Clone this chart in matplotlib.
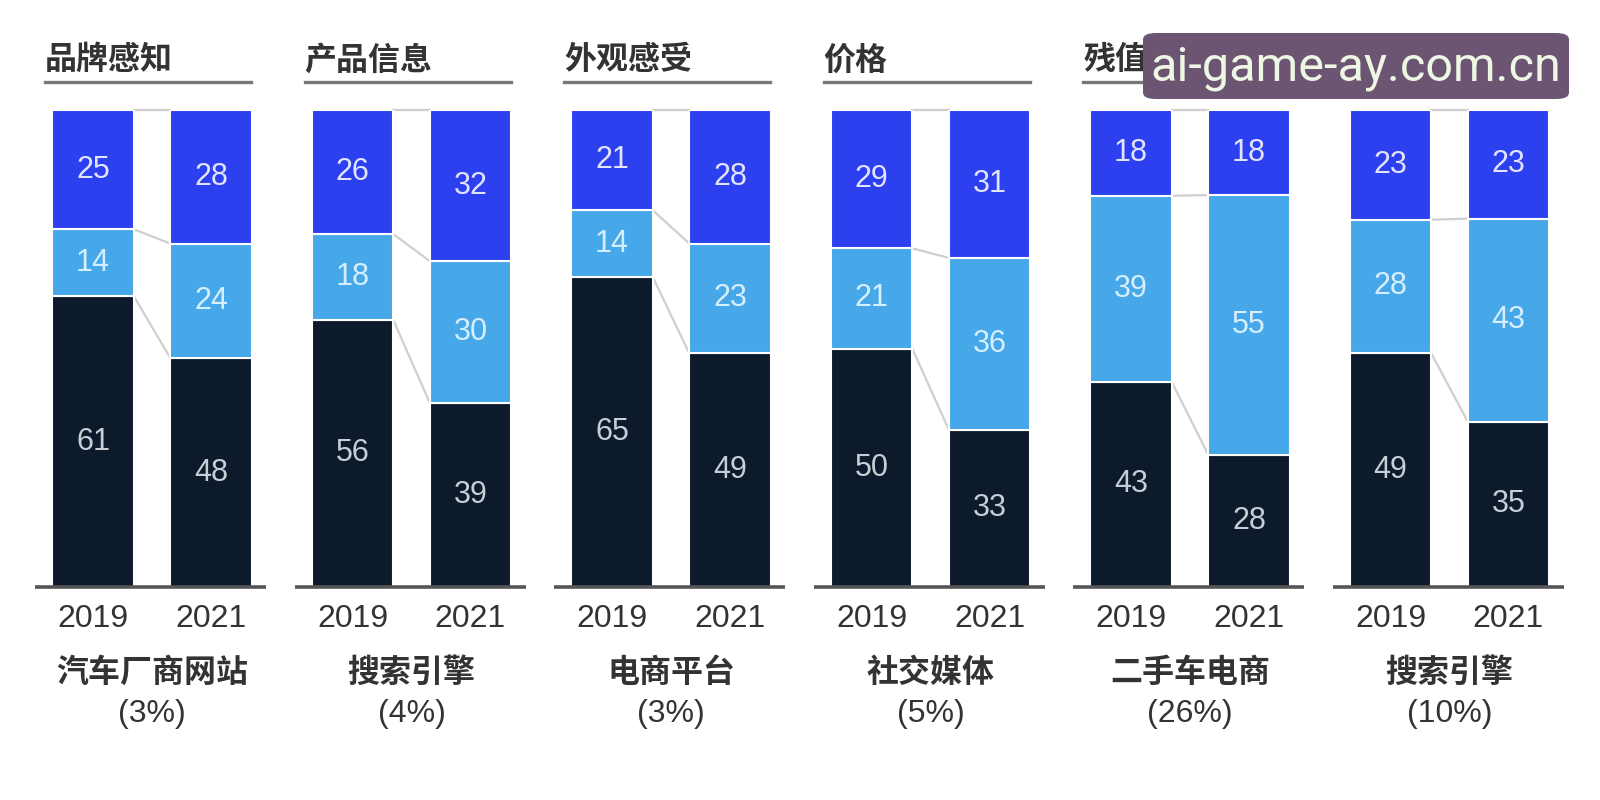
import matplotlib.pyplot as plt
from matplotlib.patches import FancyBboxPatch

plt.rcParams['font.family'] = ['Liberation Sans', 'Noto Sans CJK SC', 'DejaVu Sans']

# data
titles = ['品牌感知', '产品信息', '外观感受', '价格', '残值', '售后服务']
channels = ['汽车厂商网站', '搜索引擎', '电商平台', '社交媒体', '二手车电商', '搜索引擎']
shares = ['(3%)', '(4%)', '(3%)', '(5%)', '(26%)', '(10%)']
years = ['2019', '2021']
# each panel: [2019, 2021], bottom -> top
dark = [[61, 48], [56, 39], [65, 49], [50, 33], [43, 28], [49, 35]]
light = [[14, 24], [18, 30], [14, 23], [21, 36], [39, 55], [28, 43]]
blue = [[25, 28], [26, 32], [21, 28], [29, 31], [18, 18], [23, 23]]

c_dark = '#0c1a2c'
c_light = '#46a7e9'
c_blue = '#2c40ef'
txt_cols = ['#c9ced6', '#d6efff', '#e2e4ff']

W, H = 1600, 800
fig = plt.figure(figsize=(16, 8), dpi=100)
fig.patch.set_facecolor('white')

unit = 118
bw = 0.69
for i in range(6):
    c0 = 93 + 259.5 * i
    left = c0 - 0.49 * unit
    ax = fig.add_axes([left / W, (H - 587) / H, 1.96 * unit / W, 477 / H])
    ax.set_xlim(-0.49, 1.47)
    ax.set_ylim(0, 100)
    ax.axis('off')

    bottoms = [0, 0]
    tops = []
    for seg, col, tc in zip([dark[i], light[i], blue[i]], [c_dark, c_light, c_blue], txt_cols):
        for j in range(2):
            tot = dark[i][j] + light[i][j] + blue[i][j]
            h = seg[j] * 100 / tot
            ax.bar(j, h, bw, bottom=bottoms[j], color=col, edgecolor='white',
                   linewidth=1.5, zorder=2)
            ax.text(j, bottoms[j] + h / 2, str(seg[j]), ha='center', va='center',
                    fontsize=22, color=tc, zorder=3)
            bottoms[j] += h
        tops.append(list(bottoms))

    # connector lines between the bars
    for t in tops:
        ax.plot([bw / 2, 1 - bw / 2], [t[0], t[1]], color='#cfcfcf', lw=1.6,
                zorder=1, clip_on=False)

    # baseline
    ax.plot([0, 1], [0, 0], transform=ax.transAxes, color='#555555', lw=2.6,
            clip_on=False, solid_capstyle='butt', zorder=4)

    # title and underline
    ax.text(0.043, 1.104, titles[i], transform=ax.transAxes, ha='left', va='center',
            fontsize=23, fontweight='bold', color='#333333',
            family=['Noto Sans CJK SC'])
    ax.plot([0.043, 0.935], [1.0587, 1.0587], transform=ax.transAxes,
            color='#777777', lw=2.4, clip_on=False)

    for j in range(2):
        ax.text(j, -0.067, years[j], transform=ax.get_xaxis_transform(),
                ha='center', va='center', fontsize=23, color='#333333')
    ax.text(0.5, -0.180, channels[i], transform=ax.get_xaxis_transform(),
            ha='center', va='center', fontsize=23, fontweight='bold', color='#333333',
            family=['Noto Sans CJK SC'])
    ax.text(0.5, -0.266, shares[i], transform=ax.get_xaxis_transform(),
            ha='center', va='center', fontsize=23, color='#333333')

# watermark box
box = FancyBboxPatch((1143 / W, (H - 99) / H), 426 / W, 66 / H,
                     boxstyle='round,pad=0,rounding_size=0.008',
                     transform=fig.transFigure, facecolor='#6c5572',
                     edgecolor='none', zorder=10)
fig.patches.append(box)
fig.text(1356 / W, (H - 68) / H, 'ai-game-ay.com.cn', ha='center', va='center',
         fontsize=35, color='#eef6e4', family=['Roboto'], zorder=11)

fig.savefig('out.png', dpi=100)
